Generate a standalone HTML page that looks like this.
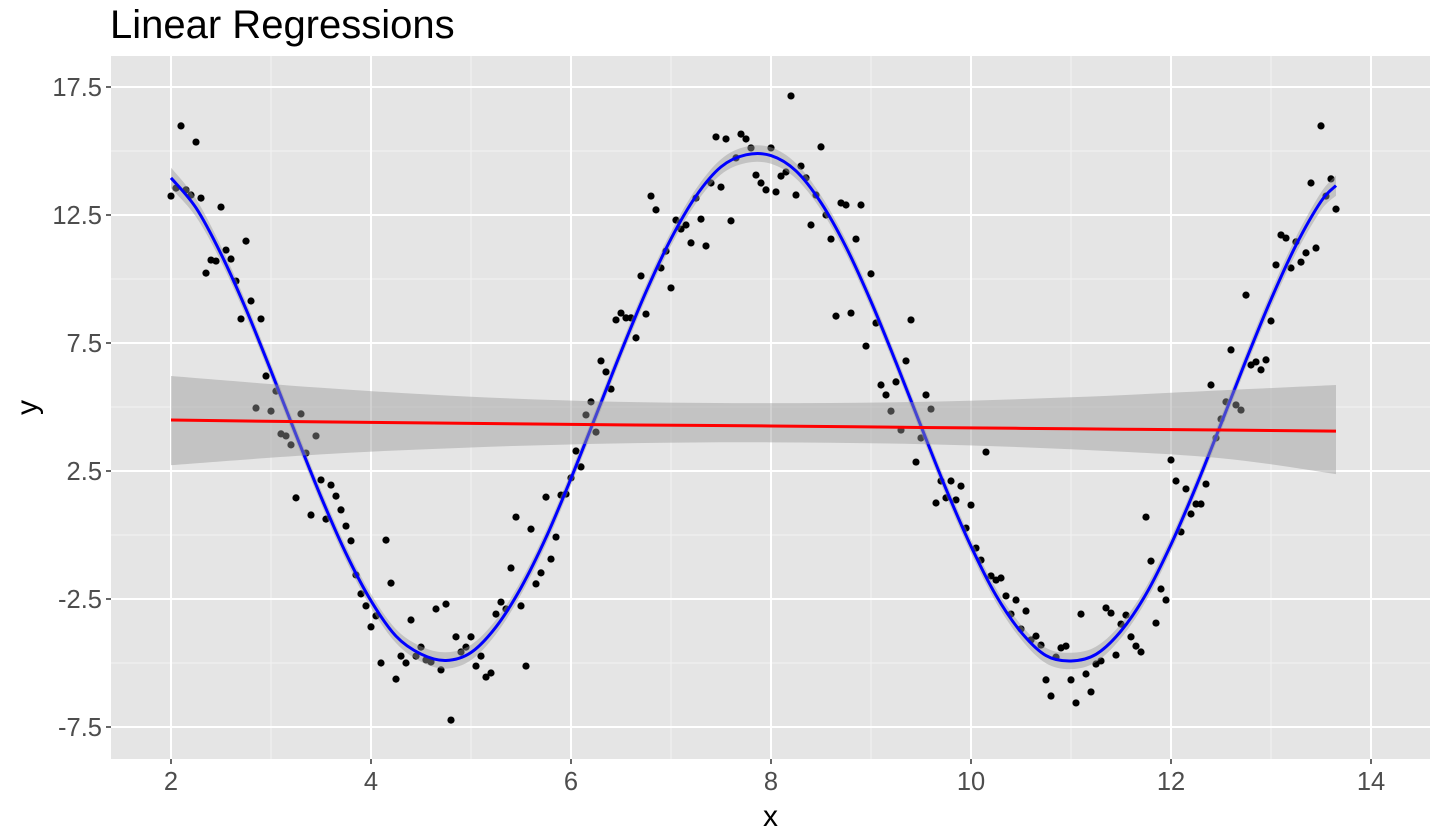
<!DOCTYPE html>
<html><head><meta charset="utf-8"><style>
html,body{margin:0;padding:0;background:#fff;}
svg{display:block;font-family:"Liberation Sans",Arial,sans-serif;}
</style></head><body>
<svg id="chart" width="1440" height="840" viewBox="0 0 1440 840"></svg>
<script>
const xs=[2,2.05,2.1,2.15,2.2,2.25,2.3,2.35,2.4,2.45,2.5,2.55,2.6,2.65,2.7,2.75,2.8,2.85,2.9,2.95,3,3.05,3.1,3.15,3.2,3.25,3.3,3.35,3.4,3.45,3.5,3.55,3.6,3.65,3.7,3.75,3.8,3.85,3.9,3.95,4,4.05,4.1,4.15,4.2,4.25,4.3,4.35,4.4,4.45,4.5,4.55,4.6,4.65,4.7,4.75,4.8,4.85,4.9,4.95,5,5.05,5.1,5.15,5.2,5.25,5.3,5.35,5.4,5.45,5.5,5.55,5.6,5.65,5.7,5.75,5.8,5.85,5.9,5.95,6,6.05,6.1,6.15,6.2,6.25,6.3,6.35,6.4,6.45,6.5,6.55,6.6,6.65,6.7,6.75,6.8,6.85,6.9,6.95,7,7.05,7.1,7.15,7.2,7.25,7.3,7.35,7.4,7.45,7.5,7.55,7.6,7.65,7.7,7.75,7.8,7.85,7.9,7.95,8,8.05,8.1,8.15,8.2,8.25,8.3,8.35,8.4,8.45,8.5,8.55,8.6,8.65,8.7,8.75,8.8,8.85,8.9,8.95,9,9.05,9.1,9.15,9.2,9.25,9.3,9.35,9.4,9.45,9.5,9.55,9.6,9.65,9.7,9.75,9.8,9.85,9.9,9.95,10,10.05,10.1,10.15,10.2,10.25,10.3,10.35,10.4,10.45,10.5,10.55,10.6,10.65,10.7,10.75,10.8,10.85,10.9,10.95,11,11.05,11.1,11.15,11.2,11.25,11.3,11.35,11.4,11.45,11.5,11.55,11.6,11.65,11.7,11.75,11.8,11.85,11.9,11.95,12,12.05,12.1,12.15,12.2,12.25,12.3,12.35,12.4,12.45,12.5,12.55,12.6,12.65,12.7,12.75,12.8,12.85,12.9,12.95,13,13.05,13.1,13.15,13.2,13.25,13.3,13.35,13.4,13.45,13.5,13.55,13.6,13.65];
const ys=[13.24,13.55,15.98,13.48,13.28,15.35,13.16,10.23,10.74,10.70,
12.81,11.13,10.78,9.92,8.44,11.48,9.14,4.96,8.44,6.21,
4.84,5.62,3.95,3.87,3.52,1.45,4.73,3.20,0.78,3.87,
2.15,0.62,1.95,1.52,0.98,0.35,-0.23,-1.56,-2.30,-2.77,
-3.59,-3.16,-5.0,-0.20,-1.88,-5.63,-4.73,-5.0,-3.32,-4.73,
-4.38,-4.88,-4.96,-2.89,-5.27,-2.70,-7.23,-3.98,-4.57,-4.38,
-3.98,-5.12,-4.73,-5.55,-5.39,-3.09,-2.62,-2.89,-1.29,0.70,
-2.77,-5.12,0.23,-1.91,-1.48,1.48,-0.94,-0.08,1.56,1.60,
2.23,3.28,2.66,4.69,5.20,4.02,6.80,6.37,5.70,8.40,
8.67,8.48,8.48,7.70,10.12,8.63,13.24,12.70,10.43,11.09,
9.65,12.30,11.95,12.11,11.41,13.16,12.34,11.29,13.75,15.55,
13.59,15.47,12.27,14.73,15.66,15.47,15.12,14.06,13.75,13.48,
15.12,13.40,14.02,14.18,17.15,13.28,14.41,13.95,12.11,13.28,
15.16,12.5,11.56,8.55,12.97,12.89,8.67,11.56,12.89,7.38,
10.20,8.28,5.86,5.47,4.84,5.98,4.10,6.80,8.40,2.85,
3.79,5.47,4.92,1.25,2.11,1.45,2.11,1.37,1.91,0.27,
1.17,-0.51,-0.98,3.24,-1.60,-1.76,-1.68,-2.38,-3.09,-2.54,
-3.67,-2.97,-4.10,-3.95,-4.30,-5.66,-6.29,-4.77,-4.41,-4.34,
-5.66,-6.56,-3.09,-5.43,-6.13,-5.04,-4.92,-2.85,-3.05,-4.69,
-3.48,-3.13,-3.98,-4.34,-4.57,0.70,-1.02,-3.44,-2.11,-2.54,
2.93,2.11,0.12,1.80,0.82,1.21,1.21,1.99,5.86,3.79,
4.53,5.20,7.23,5.08,4.88,9.37,6.64,6.76,6.45,6.84,
8.36,10.55,11.72,11.60,10.43,11.45,10.66,11.02,13.75,11.21,
15.98,13.24,13.91,12.73];
const fitX=[2,2.25,2.5,2.75,3,3.25,3.5,3.75,4,4.25,4.5,4.75,5,5.25,5.5,5.75,6,6.25,6.5,6.75,7,7.25,7.5,7.75,8,8.25,8.5,8.75,9,9.25,9.5,9.75,10,10.25,10.5,10.75,11,11.25,11.5,11.75,12,12.25,12.5,12.75,13,13.25,13.5,13.65];
const fitY=[13.95,12.78,10.98,8.82,6.41,3.92,1.49,-0.72,-2.57,-3.95,-4.65,-4.90,-4.59,-3.59,-2.06,-0.10,2.21,4.67,7.15,9.50,11.57,13.24,14.38,14.85,14.82,14.22,12.98,11.25,9.12,6.74,4.25,1.80,-0.44,-2.36,-3.79,-4.71,-4.92,-4.66,-3.75,-2.31,-0.37,1.89,4.34,6.83,9.20,11.32,13.03,13.65];
const fitSE=[0.4,0.35,0.3,0.28,0.27,0.27,0.27,0.27,0.27,0.27,0.3,0.32,0.3,0.28,0.27,0.27,0.27,0.27,0.27,0.27,0.27,0.28,0.3,0.32,0.32,0.3,0.28,0.27,0.27,0.27,0.27,0.27,0.27,0.27,0.28,0.3,0.32,0.3,0.28,0.27,0.27,0.27,0.27,0.28,0.3,0.32,0.35,0.4];
const lmX=[2,3.5,5,6.5,8,9.5,11,12.5,13.65];
const lmY=[4.49,4.42,4.36,4.30,4.26,4.20,4.15,4.10,4.06];
const lmLo=[2.73,3.15,3.42,3.58,3.62,3.55,3.35,3.00,2.38];
const lmHi=[6.21,5.75,5.40,5.20,5.15,5.20,5.38,5.65,5.86];
const xTicks=[2,4,6,8,10,12,14];
const yTicks=[17.5,12.5,7.5,2.5,-2.5,-7.5];
const yTickLabels=["17.5","12.5","7.5","2.5","-2.5","-7.5"];

const NS="http://www.w3.org/2000/svg";
const svg=document.getElementById('chart');
const P={l:111,r:1430,t:56,b:759};
const X=v=>171+(v-2)*100;
const Y=v=>87+(17.5-v)*25.6;
function mk(tag,attrs,parent){const e=document.createElementNS(NS,tag);for(const k in attrs)e.setAttribute(k,attrs[k]);(parent||svg).appendChild(e);return e;}
function smooth(pts){
  let d='M'+pts[0][0]+','+pts[0][1];
  for(let i=0;i<pts.length-1;i++){
    const p0=pts[Math.max(0,i-1)],p1=pts[i],p2=pts[i+1],p3=pts[Math.min(pts.length-1,i+2)];
    const c1=[p1[0]+(p2[0]-p0[0])/6,p1[1]+(p2[1]-p0[1])/6];
    const c2=[p2[0]-(p3[0]-p1[0])/6,p2[1]-(p3[1]-p1[1])/6];
    d+='C'+c1[0]+','+c1[1]+' '+c2[0]+','+c2[1]+' '+p2[0]+','+p2[1];
  }
  return d;
}

let t=mk('text',{x:110,y:38,'font-size':40,fill:'#000'});t.textContent='Linear Regressions';



let bg=mk('rect',{x:P.l,y:P.t,width:P.r-P.l,height:P.b-P.t,fill:'#E5E5E5'});



const grid=mk('g',{});


for(let i=0;i<xTicks.length-1;i++){const v=(xTicks[i]+xTicks[i+1])/2;mk('line',{x1:X(v),x2:X(v),y1:P.t,y2:P.b,stroke:'#F2F2F2','stroke-width':1},grid);}
for(let i=0;i<yTicks.length-1;i++){const v=(yTicks[i]+yTicks[i+1])/2;mk('line',{x1:P.l,x2:P.r,y1:Y(v),y2:Y(v),stroke:'#F2F2F2','stroke-width':1},grid);}
xTicks.forEach(v=>mk('line',{x1:X(v),x2:X(v),y1:P.t,y2:P.b,stroke:'#fff','stroke-width':2},grid));
yTicks.forEach(v=>mk('line',{x1:P.l,x2:P.r,y1:Y(v),y2:Y(v),stroke:'#fff','stroke-width':2},grid));

const pts=mk('g',{});


for(let i=0;i<xs.length;i++){
  const c=mk('circle',{cx:X(xs[i]),cy:Y(ys[i]),r:3.6,fill:'#000'},pts);
  
  
}

function band(xa,lo,hi,name,sm){
  const up=xa.map((v,i)=>[X(v),Y(hi[i])]);
  const dn=xa.map((v,i)=>[X(v),Y(lo[i])]).reverse();
  let d=sm?smooth(up)+smooth(dn).replace('M','L'):'M'+up.map(p=>p.join(',')).join('L')+'L'+dn.map(p=>p.join(',')).join('L');
  const p=mk('path',{d:d+'Z',fill:'#999','fill-opacity':0.45});
  
  
}
function line(xa,ya,color,name){
  const p=mk('path',{d:smooth(xa.map((v,i)=>[X(v),Y(ya[i])])),fill:'none',stroke:color,'stroke-width':3});
  
  
}
band(fitX,fitY.map((v,i)=>v-fitSE[i]),fitY.map((v,i)=>v+fitSE[i]),'loess-confidence-band',true);
line(fitX,fitY,'#0000FF','loess-fit-line');
band(lmX,lmLo,lmHi,'linear-confidence-band',true);
line(lmX,lmY,'#FF0000','linear-fit-line');

const ax=mk('g',{});


xTicks.forEach(v=>{
  mk('line',{x1:X(v),x2:X(v),y1:P.b,y2:P.b+5,stroke:'#333','stroke-width':1.5},ax);
  const tx=mk('text',{x:X(v),y:P.b+31,'font-size':25.5,fill:'#4D4D4D','text-anchor':'middle'},ax);
  tx.textContent=String(v);
  
  
});
const ay=mk('g',{});


yTicks.forEach((v,i)=>{
  mk('line',{x1:P.l-5,x2:P.l,y1:Y(v),y2:Y(v),stroke:'#333','stroke-width':1.5},ay);
  const tx=mk('text',{x:P.l-9,y:Y(v)+9,'font-size':25.5,fill:'#4D4D4D','text-anchor':'end'},ay);
  tx.textContent=yTickLabels[i];
  
  
});
let xt=mk('text',{x:(P.l+P.r)/2,y:826,'font-size':30,fill:'#000','text-anchor':'middle'});xt.textContent='x';


let yt=mk('text',{x:0,y:0,'font-size':30,fill:'#000','text-anchor':'middle',transform:'translate(37,'+((P.t+P.b)/2)+') rotate(-90)'});yt.textContent='y';


</script>
</body></html>
